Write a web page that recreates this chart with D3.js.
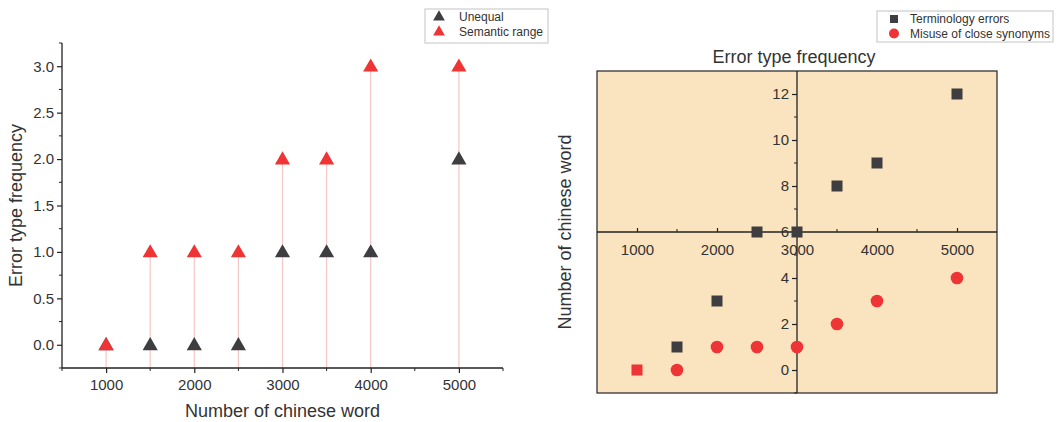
<!DOCTYPE html>
<html>
<head>
<meta charset="utf-8">
<script src="https://cdn.jsdelivr.net/npm/d3@7"></script>
<style>
  body { margin: 0; background: #fff; }
  text { font-family: "Liberation Sans", Arial, sans-serif; fill: #333; }
</style>
</head>
<body>
<div id="chart"></div>
<script>
// left panel data
var words = [1000, 1500, 2000, 2500, 3000, 3500, 4000, 5000];
var unequal = [0, 0, 0, 0, 1, 1, 1, 2];
var semantic = [0, 1, 1, 1, 2, 2, 3, 3];
// right panel data
var terminology = [0, 1, 3, 6, 6, 8, 9, 12];
var synonyms = [0, 0, 1, 1, 1, 2, 3, 4];

var leftTicksY = [0, 0.5, 1, 1.5, 2, 2.5, 3];
var xTicks = [1000, 2000, 3000, 4000, 5000];
var rightTicksY = [0, 2, 4, 6, 8, 10, 12];

var dark = "#3e3e40";
var red = "#ee3434";

var svg = d3.select("#chart").append("svg")
  .attr("width", 1060)
  .attr("height", 422);

// ---------- left chart ----------
var left = { x0: 62, x1: 503, y0: 43, y1: 368 };

var x1 = d3.scaleLinear().domain([500, 5500]).range([left.x0, left.x1]);
var y1 = d3.scaleLinear().domain([-0.25, 3.25]).range([left.y1, left.y0]);

var g1 = svg.append("g");

// drop lines
g1.selectAll("line.drop")
  .data(words)
  .enter()
  .append("line")
  .attr("x1", d => x1(d))
  .attr("x2", d => x1(d))
  .attr("y1", (d, i) => y1(semantic[i]))
  .attr("y2", left.y1)
  .attr("stroke", "#f5c6c6")
  .attr("stroke-width", 1.2);

var xAxis1 = d3.axisBottom(x1).tickValues(xTicks).tickSize(5).tickPadding(6).tickFormat(d3.format("d"));
var gx1 = g1.append("g")
  .attr("transform", `translate(0, ${left.y1})`)
  .call(xAxis1);
// minor x ticks
gx1.selectAll("line.minor")
  .data(d3.range(500, 5501, 500).filter(d => d % 1000 !== 0))
  .enter()
  .append("line")
  .attr("x1", d => x1(d)).attr("x2", d => x1(d))
  .attr("y1", 0).attr("y2", 3)
  .attr("stroke", "#222");

var yAxis1 = d3.axisLeft(y1).tickValues(leftTicksY).tickSize(5).tickPadding(3).tickFormat(d3.format(".1f"));
var gy1 = g1.append("g")
  .attr("transform", `translate(${left.x0}, 0)`)
  .call(yAxis1);
gy1.selectAll("line.minor")
  .data(d3.range(-0.25, 3.26, 0.5))
  .enter()
  .append("line")
  .attr("x1", 0).attr("x2", -3)
  .attr("y1", d => y1(d)).attr("y2", d => y1(d))
  .attr("stroke", "#222");

[gx1, gy1].forEach(function(a) {
  a.select(".domain").attr("stroke", "#222").attr("stroke-width", 1.3);
  a.selectAll(".tick line").attr("stroke", "#222").attr("stroke-width", 1.2);
  a.selectAll(".tick text").style("font-size", "15px").style("fill", "#333");
});
gx1.select(".domain").attr("d", `M${left.x0},0H${left.x1}`);
gy1.select(".domain").attr("d", `M0,${left.y0}V${left.y1}`);

var tri = d3.symbol().type(d3.symbolTriangle).size(100);

g1.selectAll("path.unequal")
  .data(words)
  .enter()
  .append("path")
  .attr("d", tri)
  .attr("transform", (d, i) => `translate(${x1(d)}, ${y1(unequal[i]) + 1})`)
  .attr("fill", dark);

g1.selectAll("path.semantic")
  .data(words)
  .enter()
  .append("path")
  .attr("d", tri)
  .attr("transform", (d, i) => `translate(${x1(d)}, ${y1(semantic[i]) + 1})`)
  .attr("fill", red);

g1.append("text")
  .attr("x", (left.x0 + left.x1) / 2)
  .attr("y", 417)
  .attr("text-anchor", "middle")
  .style("font-size", "18px")
  .text("Number of chinese word");

g1.append("text")
  .attr("transform", `translate(22, ${(left.y0 + left.y1) / 2}) rotate(-90)`)
  .attr("text-anchor", "middle")
  .style("font-size", "18px")
  .text("Error type frequency");

// left legend
var lg1 = svg.append("g");
lg1.append("rect")
  .attr("x", 425).attr("y", 9).attr("width", 123).attr("height", 34)
  .attr("fill", "#fff").attr("stroke", "#c4c4c4");
[["Unequal", dark], ["Semantic range", red]].forEach(function(item, i) {
  lg1.append("path")
    .attr("d", d3.symbol().type(d3.symbolTriangle).size(60))
    .attr("transform", `translate(439, ${17 + i * 15})`)
    .attr("fill", item[1]);
  lg1.append("text")
    .attr("x", 459).attr("y", 21 + i * 15)
    .style("font-size", "12px")
    .text(item[0]);
});

// ---------- right chart ----------
var right = { x0: 597, x1: 997, y0: 71, y1: 393 };

var x2 = d3.scaleLinear().domain([500, 5500]).range([right.x0, right.x1]);
var y2 = d3.scaleLinear().domain([-1, 13]).range([right.y1, right.y0]);

var g2 = svg.append("g");

g2.append("rect")
  .attr("x", right.x0).attr("y", right.y0)
  .attr("width", right.x1 - right.x0).attr("height", right.y1 - right.y0)
  .attr("fill", "#fae3bf")
  .attr("stroke", "#333").attr("stroke-width", 1.3);

var xAxis2 = d3.axisTop(x2).tickValues(xTicks).tickSize(4).tickFormat(d3.format("d"));
var gx2 = g2.append("g")
  .attr("transform", `translate(0, ${y2(6)})`)
  .call(xAxis2);
gx2.selectAll(".tick text").attr("y", 23);
gx2.selectAll("line.minor")
  .data(d3.range(1500, 5001, 1000))
  .enter()
  .append("line")
  .attr("x1", d => x2(d)).attr("x2", d => x2(d))
  .attr("y1", 0).attr("y2", -3)
  .attr("stroke", "#222");

var yAxis2 = d3.axisLeft(y2).tickValues(rightTicksY).tickSize(5).tickPadding(3);
var gy2 = g2.append("g")
  .attr("transform", `translate(${x2(3000)}, 0)`)
  .call(yAxis2);
gy2.selectAll("line.minor")
  .data(d3.range(-1, 13, 2))
  .enter()
  .append("line")
  .attr("x1", 0).attr("x2", -3)
  .attr("y1", d => y2(d)).attr("y2", d => y2(d))
  .attr("stroke", "#222");

[gx2, gy2].forEach(function(a) {
  a.select(".domain").attr("stroke", "#222").attr("stroke-width", 1.3);
  a.selectAll(".tick line").attr("stroke", "#222").attr("stroke-width", 1.2);
  a.selectAll(".tick text").style("font-size", "15px").style("fill", "#333");
});
gx2.select(".domain").attr("d", `M${right.x0},0H${right.x1}`);
gy2.select(".domain").attr("d", `M0,${right.y0}V${right.y1}`);

// squares then circles; a square hidden under a circle takes the circle colour
g2.selectAll("rect.term")
  .data(words)
  .enter()
  .append("rect")
  .attr("x", d => x2(d) - 5.5)
  .attr("y", (d, i) => y2(terminology[i]) - 5.5)
  .attr("width", 11).attr("height", 11)
  .attr("fill", (d, i) => terminology[i] === synonyms[i] ? red : dark);

g2.selectAll("circle.syn")
  .data(words)
  .enter()
  .filter((d, i) => terminology[i] !== synonyms[i])
  .append("circle")
  .attr("cx", d => x2(d))
  .attr("cy", d => y2(synonyms[words.indexOf(d)]))
  .attr("r", 6.3)
  .attr("fill", red);

g2.append("text")
  .attr("x", (right.x0 + right.x1) / 2 - 3)
  .attr("y", 63)
  .attr("text-anchor", "middle")
  .style("font-size", "18px")
  .text("Error type frequency");

g2.append("text")
  .attr("transform", `translate(571, ${(right.y0 + right.y1) / 2}) rotate(-90)`)
  .attr("text-anchor", "middle")
  .style("font-size", "18px")
  .text("Number of chinese word");

// right legend
var lg2 = svg.append("g");
lg2.append("rect")
  .attr("x", 877).attr("y", 11).attr("width", 176).attr("height", 31)
  .attr("fill", "#fff").attr("stroke", "#c4c4c4");
lg2.append("rect")
  .attr("x", 890).attr("y", 15).attr("width", 8).attr("height", 8)
  .attr("fill", dark);
lg2.append("circle")
  .attr("cx", 894).attr("cy", 33.5).attr("r", 5)
  .attr("fill", red);
[["Terminology errors", 23], ["Misuse of close synonyms", 37.5]].forEach(function(item) {
  lg2.append("text")
    .attr("x", 910).attr("y", item[1])
    .style("font-size", "12px")
    .text(item[0]);
});
</script>
</body>
</html>
